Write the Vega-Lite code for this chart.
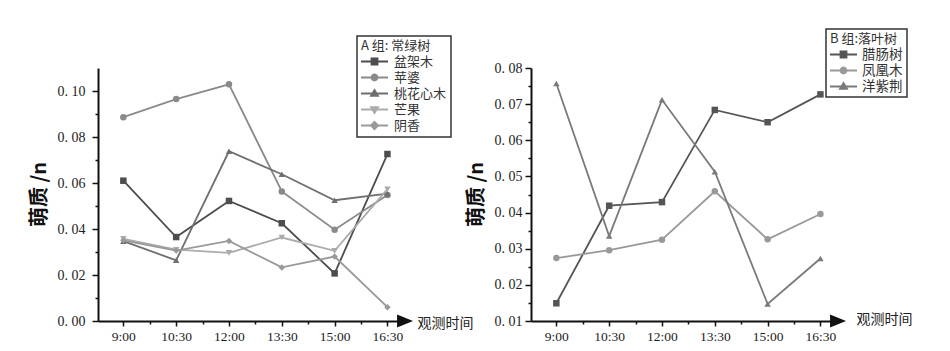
{
  "$schema": "https://vega.github.io/schema/vega-lite/v6.json",
  "background": "white",
  "padding": {"left": 29, "top": 28, "right": 5, "bottom": 5},
  "bounds": "flush",
  "spacing": 133,
  "resolve": {
    "scale": {"color": "independent", "shape": "independent"},
    "legend": {"color": "independent", "shape": "independent"}
  },
  "config": {
    "view": {"stroke": null},
    "font": "Noto Sans CJK SC",
    "axis": {
      "grid": false,
      "domainColor": "#111",
      "domainWidth": 2,
      "tickColor": "#111",
      "tickWidth": 1.5,
      "labelFont": "Liberation Serif",
      "labelFontSize": 14,
      "labelColor": "#222",
      "labelFlush": false,
      "labelOverlap": false
    }
  },
  "datasets": {
    "A": [
      {"tree": "盆架木", "hour": 9, "value": 0.061},
      {"tree": "盆架木", "hour": 10.5, "value": 0.0365},
      {"tree": "盆架木", "hour": 12, "value": 0.0522},
      {"tree": "盆架木", "hour": 13.5, "value": 0.0425},
      {"tree": "盆架木", "hour": 15, "value": 0.0207},
      {"tree": "盆架木", "hour": 16.5, "value": 0.0726},
      {"tree": "苹婆", "hour": 9, "value": 0.0886},
      {"tree": "苹婆", "hour": 10.5, "value": 0.0965},
      {"tree": "苹婆", "hour": 12, "value": 0.1029},
      {"tree": "苹婆", "hour": 13.5, "value": 0.0563},
      {"tree": "苹婆", "hour": 15, "value": 0.0397},
      {"tree": "苹婆", "hour": 16.5, "value": 0.0548},
      {"tree": "桃花心木", "hour": 9, "value": 0.0347},
      {"tree": "桃花心木", "hour": 10.5, "value": 0.0264},
      {"tree": "桃花心木", "hour": 12, "value": 0.0738},
      {"tree": "桃花心木", "hour": 13.5, "value": 0.0638},
      {"tree": "桃花心木", "hour": 15, "value": 0.0525},
      {"tree": "桃花心木", "hour": 16.5, "value": 0.0554},
      {"tree": "芒果", "hour": 9, "value": 0.0357},
      {"tree": "芒果", "hour": 10.5, "value": 0.031},
      {"tree": "芒果", "hour": 12, "value": 0.0296},
      {"tree": "芒果", "hour": 13.5, "value": 0.0363},
      {"tree": "芒果", "hour": 15, "value": 0.0305},
      {"tree": "芒果", "hour": 16.5, "value": 0.0573},
      {"tree": "阴香", "hour": 9, "value": 0.0351},
      {"tree": "阴香", "hour": 10.5, "value": 0.0306},
      {"tree": "阴香", "hour": 12, "value": 0.0348},
      {"tree": "阴香", "hour": 13.5, "value": 0.0233},
      {"tree": "阴香", "hour": 15, "value": 0.028},
      {"tree": "阴香", "hour": 16.5, "value": 0.006}
    ],
    "B": [
      {"tree": "腊肠树", "hour": 9, "value": 0.0149},
      {"tree": "腊肠树", "hour": 10.5, "value": 0.0419},
      {"tree": "腊肠树", "hour": 12, "value": 0.0429},
      {"tree": "腊肠树", "hour": 13.5, "value": 0.0684},
      {"tree": "腊肠树", "hour": 15, "value": 0.065},
      {"tree": "腊肠树", "hour": 16.5, "value": 0.0727},
      {"tree": "凤凰木", "hour": 9, "value": 0.0274},
      {"tree": "凤凰木", "hour": 10.5, "value": 0.0296},
      {"tree": "凤凰木", "hour": 12, "value": 0.0325},
      {"tree": "凤凰木", "hour": 13.5, "value": 0.0459},
      {"tree": "凤凰木", "hour": 15, "value": 0.0326},
      {"tree": "凤凰木", "hour": 16.5, "value": 0.0396},
      {"tree": "洋紫荆", "hour": 9, "value": 0.0757},
      {"tree": "洋紫荆", "hour": 10.5, "value": 0.0335},
      {"tree": "洋紫荆", "hour": 12, "value": 0.0712},
      {"tree": "洋紫荆", "hour": 13.5, "value": 0.0513},
      {"tree": "洋紫荆", "hour": 15, "value": 0.0147},
      {"tree": "洋紫荆", "hour": 16.5, "value": 0.0273}
    ]
  },
  "hconcat": [
    {
      "width": 300,
      "height": 253,
      "data": {"name": "A"},
      "encoding": {
        "x": {
          "field": "hour", "type": "quantitative",
          "scale": {"domain": [8.28, 16.8], "nice": false, "zero": false},
          "axis": {
            "values": [9, 9.75, 10.5, 11.25, 12, 12.75, 13.5, 14.25, 15, 15.75, 16.5],
            "labelExpr": "(datum.value*4) % 6 == 0 ? floor(datum.value) + ':' + (datum.value % 1 == 0 ? '00' : '30') : ''",
            "labelFontSize": 13.5,
            "labelPadding": 3,
            "tickSize": {"condition": {"test": "(datum.value*4) % 6 != 0", "value": 3}, "value": 5},
            "title": "观测时间",
            "titleX": 319, "titleY": 2,
            "titleAlign": "left", "titleBaseline": "middle",
            "titleFontSize": 14, "titleFontWeight": "normal", "titleColor": "#222"
          }
        },
        "y": {
          "field": "value", "type": "quantitative",
          "scale": {"domain": [0, 0.11], "nice": false, "zero": false},
          "axis": {
            "values": [0, 0.01, 0.02, 0.03, 0.04, 0.05, 0.06, 0.07, 0.08, 0.09, 0.1],
            "labelExpr": "abs(round(datum.value*100)) % 2 == 0 ? replace(format(datum.value, '.2f'), '.', '. ') : ''",
            "labelPadding": 7,
            "tickSize": {"condition": {"test": "abs(round(datum.value*100)) % 2 == 1", "value": 3}, "value": 6},
            "title": "萌质 /n",
            "titleX": -59, "titleY": 126, "titleAngle": -90,
            "titleAlign": "center", "titleBaseline": "middle",
            "titleFontSize": 20, "titleFontWeight": "bold", "titleColor": "#111"
          }
        },
        "color": {
          "field": "tree", "type": "nominal",
          "scale": {"domain": ["盆架木", "苹婆", "桃花心木", "芒果", "阴香"], "range": ["#4d4d4d", "#8a8a8a", "#6f6f6f", "#ababab", "#999999"]},
          "legend": {
            "title": "A 组: 常绿树",
            "orient": "none", "legendX": 259, "legendY": -32,
            "strokeColor": "#333", "fillColor": "white", "padding": 4,
            "titleFontSize": 13, "titleFontWeight": "normal", "titleColor": "#333", "titlePadding": 1,
            "labelFontSize": 13, "labelColor": "#333", "labelOffset": 12,
            "symbolSize": 169, "symbolStrokeWidth": 1.8, "symbolOffset": 6, "rowPadding": 1,
            "encode": {
              "legend": {"update": {"strokeWidth": {"value": 1.5}}},
              "symbols": {
                "update": {
                  "shape": {"signal": "['M-2.08,0L2.08,0M-0.46,-0.46L0.46,-0.46L0.46,0.46L-0.46,0.46Z','M-2.08,0L2.08,0M-0.46,0A0.46,0.46,0,1,1,0.46,0A0.46,0.46,0,1,1,-0.46,0Z','M-2.08,0L2.08,0M0,-0.54L0.54,0.37L-0.54,0.37Z','M-2.08,0L2.08,0M0,0.54L0.54,-0.37L-0.54,-0.37Z','M-2.08,0L2.08,0M0,-0.57L0.57,0L0,0.57L-0.57,0Z'][indexof(['盆架木','苹婆','桃花心木','芒果','阴香'], datum.value)]"},
                  "fill": {"signal": "['#4d4d4d','#8a8a8a','#6f6f6f','#ababab','#999999'][indexof(['盆架木','苹婆','桃花心木','芒果','阴香'], datum.value)]"},
                  "stroke": {"signal": "['#4d4d4d','#8a8a8a','#6f6f6f','#ababab','#999999'][indexof(['盆架木','苹婆','桃花心木','芒果','阴香'], datum.value)]"},
                  "opacity": {"value": 1}
                }
              }
            }
          }
        }
      },
      "layer": [
        {"mark": {"type": "line", "strokeWidth": 1.8}},
        {
          "mark": {"type": "point", "filled": true, "opacity": 1, "size": 42},
          "encoding": {
            "shape": {
              "field": "tree", "type": "nominal",
              "scale": {"domain": ["阴香", "芒果", "桃花心木", "苹婆", "盆架木"], "range": ["diamond", "triangle-down", "triangle-up", "circle", "square"]},
              "legend": null
            }
          }
        },
        {
          "transform": [{"filter": "datum.tree == '盆架木' && datum.hour == 9"}],
          "mark": {"type": "point", "filled": true, "opacity": 1, "shape": "M-1,-0.8L1,0L-1,0.8Z", "size": 256, "color": "#111", "clip": false},
          "encoding": {
            "x": {"datum": 17.0, "type": "quantitative"},
            "y": {"datum": 0, "type": "quantitative"},
            "color": {"value": "#111"}
          }
        }
      ]
    },
    {
      "width": 300,
      "height": 253,
      "data": {"name": "B"},
      "encoding": {
        "x": {
          "field": "hour", "type": "quantitative",
          "scale": {"domain": [8.28, 16.8], "nice": false, "zero": false},
          "axis": {
            "values": [9, 9.75, 10.5, 11.25, 12, 12.75, 13.5, 14.25, 15, 15.75, 16.5],
            "labelExpr": "(datum.value*4) % 6 == 0 ? floor(datum.value) + ':' + (datum.value % 1 == 0 ? '00' : '30') : ''",
            "labelFontSize": 13.5,
            "labelPadding": 3,
            "tickSize": {"condition": {"test": "(datum.value*4) % 6 != 0", "value": 3}, "value": 5},
            "title": "观测时间",
            "titleX": 325, "titleY": -2,
            "titleAlign": "left", "titleBaseline": "middle",
            "titleFontSize": 14, "titleFontWeight": "normal", "titleColor": "#222"
          }
        },
        "y": {
          "field": "value", "type": "quantitative",
          "scale": {"domain": [0.01, 0.08], "nice": false, "zero": false},
          "axis": {
            "values": [0.01, 0.015, 0.02, 0.025, 0.03, 0.035, 0.04, 0.045, 0.05, 0.055, 0.06, 0.065, 0.07, 0.075, 0.08],
            "labelExpr": "abs(round(datum.value*200)) % 2 == 0 ? replace(format(datum.value, '.2f'), '.', '. ') : ''",
            "labelPadding": 3,
            "tickSize": {"condition": {"test": "abs(round(datum.value*200)) % 2 == 1", "value": 3}, "value": 6},
            "title": "萌质 /n",
            "titleX": -55, "titleY": 126, "titleAngle": -90,
            "titleAlign": "center", "titleBaseline": "middle",
            "titleFontSize": 20, "titleFontWeight": "bold", "titleColor": "#111"
          }
        },
        "color": {
          "field": "tree", "type": "nominal",
          "scale": {"domain": ["腊肠树", "凤凰木", "洋紫荆"], "range": ["#555555", "#999999", "#7a7a7a"]},
          "legend": {
            "title": "B 组:落叶树",
            "orient": "none", "legendX": 295, "legendY": -39,
            "strokeColor": "#333", "fillColor": "white", "padding": 4,
            "titleFontSize": 13, "titleFontWeight": "normal", "titleColor": "#333", "titlePadding": 1,
            "labelFontSize": 13.5, "labelColor": "#333", "labelOffset": 11,
            "symbolSize": 169, "symbolStrokeWidth": 1.8, "symbolOffset": 6, "rowPadding": 1,
            "encode": {
              "legend": {"update": {"strokeWidth": {"value": 1.5}}},
              "symbols": {
                "update": {
                  "shape": {"signal": "['M-2.08,0L2.08,0M-0.46,-0.46L0.46,-0.46L0.46,0.46L-0.46,0.46Z','M-2.08,0L2.08,0M-0.46,0A0.46,0.46,0,1,1,0.46,0A0.46,0.46,0,1,1,-0.46,0Z','M-2.08,0L2.08,0M0,-0.54L0.54,0.37L-0.54,0.37Z'][indexof(['腊肠树','凤凰木','洋紫荆'], datum.value)]"},
                  "fill": {"signal": "['#555555','#999999','#7a7a7a'][indexof(['腊肠树','凤凰木','洋紫荆'], datum.value)]"},
                  "stroke": {"signal": "['#555555','#999999','#7a7a7a'][indexof(['腊肠树','凤凰木','洋紫荆'], datum.value)]"},
                  "opacity": {"value": 1}
                }
              }
            }
          }
        }
      },
      "layer": [
        {"mark": {"type": "line", "strokeWidth": 1.8}},
        {
          "mark": {"type": "point", "filled": true, "opacity": 1, "size": 42},
          "encoding": {
            "shape": {
              "field": "tree", "type": "nominal",
              "scale": {"domain": ["洋紫荆", "凤凰木", "腊肠树"], "range": ["triangle-up", "circle", "square"]},
              "legend": null
            }
          }
        },
        {
          "transform": [{"filter": "datum.tree == '腊肠树' && datum.hour == 9"}],
          "mark": {"type": "point", "filled": true, "opacity": 1, "shape": "M-1,-0.8L1,0L-1,0.8Z", "size": 256, "color": "#111", "clip": false},
          "encoding": {
            "x": {"datum": 17.0, "type": "quantitative"},
            "y": {"datum": 0.01, "type": "quantitative"},
            "color": {"value": "#111"}
          }
        }
      ]
    }
  ]
}
